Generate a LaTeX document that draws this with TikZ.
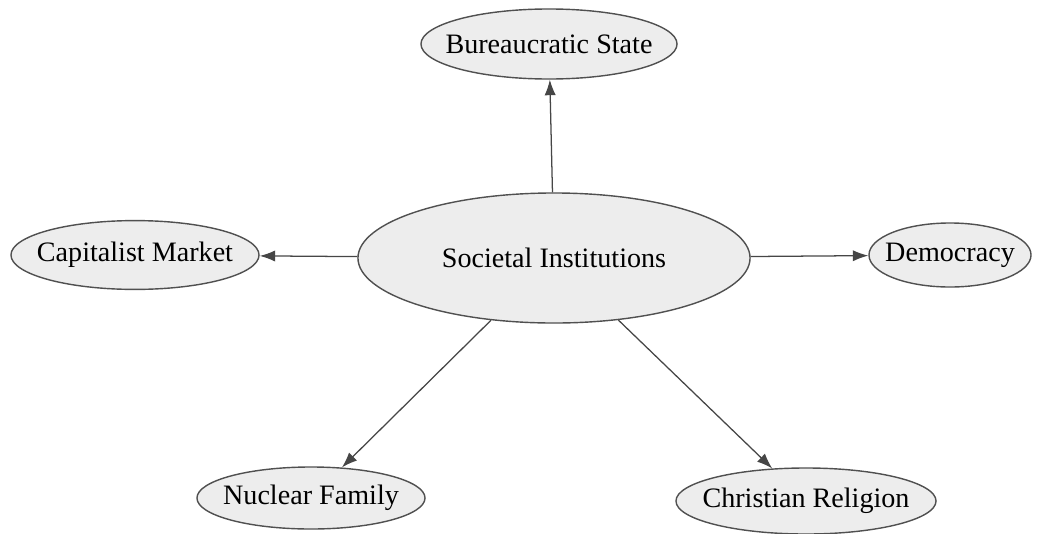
\documentclass[tikz,border=0pt]{standalone}
\usepackage{fontspec}
\setmainfont{Liberation Serif}
\usetikzlibrary{shapes.geometric,arrows.meta}
\definecolor{bubblefill}{RGB}{237, 237, 237}
\definecolor{bubbleline}{RGB}{80, 80, 80}
\definecolor{linkgray}{RGB}{70, 70, 70}

\begin{document}
\begin{tikzpicture}[x=0.025cm, y=-0.025cm,
    bubble/.style={ellipse, draw=bubbleline, fill=bubblefill, line width=1pt,
        inner xsep=-40pt, inner ysep=-12pt, font=\fontsize{20}{22}\selectfont},
    link/.style={draw=linkgray, line width=0.9pt, -{Latex[length=11pt,width=8pt]}}]
    \useasboundingbox (0,0) rectangle (1038,533);

    % Centre
    \node[bubble, minimum width=9.8cm, minimum height=3.25cm] (inst) at (554,258) {Societal Institutions};

    % Outer institutions
    \node[bubble, minimum width=6.4cm, minimum height=1.75cm] (state) at (549,44) {Bureaucratic State};
    \node[bubble, minimum width=6.2cm, minimum height=1.72cm] (market) at (135,255) {Capitalist Market};
    \node[bubble, minimum width=4.05cm, minimum height=1.6cm] (demo) at (950,255) {Democracy};
    \node[bubble, minimum width=5.7cm, minimum height=1.55cm] (family) at (311,498) {Nuclear Family};
    \node[bubble, minimum width=6.5cm, minimum height=1.65cm] (religion) at (806,501) {Christian Religion};

    % Arrows
    \draw[link] (inst) -- (state);
    \draw[link] (inst) -- (market);
    \draw[link] (inst) -- (demo);
    \draw[link] (inst) -- (family);
    \draw[link] (inst) -- (religion);
\end{tikzpicture}
\end{document}
